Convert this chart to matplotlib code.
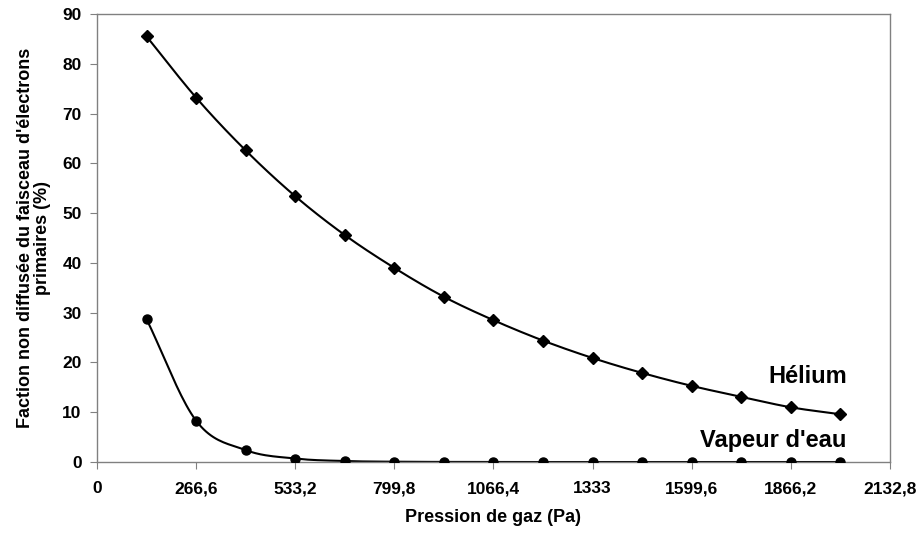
import numpy as np
import matplotlib
matplotlib.use("Agg")
import matplotlib.pyplot as plt

pressure = [133.3, 266.6, 399.9, 533.2, 666.5, 799.8, 933.1, 1066.4, 1199.7,
            1333.0, 1466.3, 1599.6, 1732.9, 1866.2, 1999.5]
helium = [85.5, 73.2, 62.6, 53.4, 45.6, 39.0, 33.2, 28.5, 24.4, 20.9, 17.9,
          15.3, 13.1, 11.0, 9.6]
vapeur = [28.7, 8.3, 2.4, 0.7, 0.2, 0.06, 0.02, 0.0, 0.0, 0.0, 0.0, 0.0, 0.0,
          0.0, 0.0]
xticks = [0, 266.6, 533.2, 799.8, 1066.4, 1333, 1599.6, 1866.2, 2132.8]
xtick_labels = ["0", "266,6", "533,2", "799,8", "1066,4", "1333", "1599,6",
                "1866,2", "2132,8"]
yticks = [0, 10, 20, 30, 40, 50, 60, 70, 80, 90]

main = "Liberation Sans"


def catmull(x, y, n=20):
    x = np.asarray(x, float); y = np.asarray(y, float)
    px = np.concatenate([[2*x[0]-x[1]], x, [2*x[-1]-x[-2]]])
    py = np.concatenate([[2*y[0]-y[1]], y, [2*y[-1]-y[-2]]])
    ox, oy = [], []
    t = np.linspace(0, 1, n, endpoint=False)
    for i in range(1, len(px) - 2):
        for P, out in ((px, ox), (py, oy)):
            p0, p1, p2, p3 = P[i-1], P[i], P[i+1], P[i+2]
            out.extend(0.5*((2*p1) + (-p0+p2)*t + (2*p0-5*p1+4*p2-p3)*t**2
                            + (-p0+3*p1-3*p2+p3)*t**3))
    ox.append(x[-1]); oy.append(y[-1])
    return np.array(ox), np.maximum(np.array(oy), 0)


fig = plt.figure(figsize=(9.24, 5.35), dpi=100)
ax = fig.add_axes([0.105, 0.1364, 0.858, 0.8374])

for ys, mk, ms in ((helium, "D", 6.5), (vapeur, "o", 6.5)):
    sx, sy = catmull(pressure, ys)
    ax.plot(sx, sy, color="black", lw=1.5, zorder=2)
    ax.plot(pressure, ys, ls="none", marker=mk, ms=ms, color="black", zorder=3)

ax.set_xlim(0, 2132.8)
ax.set_ylim(0, 90)
ax.set_xticks(xticks)
ax.set_xticklabels(xtick_labels)
ax.set_yticks(yticks)
for lbl in ax.get_xticklabels() + ax.get_yticklabels():
    lbl.set_fontfamily(main)
    lbl.set_fontweight("bold")
    lbl.set_fontsize(12.5)
ax.tick_params(direction="out", length=5, color="#808080", pad=9)
ax.tick_params(axis="y", pad=6)
for s in ax.spines.values():
    s.set_color("#808080")
    s.set_linewidth(1.0)

ax.set_xlabel("Pression de gaz (Pa)", fontfamily=main, fontweight="bold",
              fontsize=13, labelpad=9)
ax.set_ylabel("Faction non diffusée du faisceau d'électrons\nprimaires (%)",
              fontfamily=main, fontweight="bold", fontsize=13, labelpad=8,
              linespacing=1.05)

ax.text(2017, 17.1, "Hélium", ha="right", va="center",
        fontfamily=main, fontweight="bold", fontsize=17)
ax.text(2017, 4.4, "Vapeur d'eau", ha="right", va="center",
        fontfamily=main, fontweight="bold", fontsize=17)

fig.savefig("out.png", dpi=100)
